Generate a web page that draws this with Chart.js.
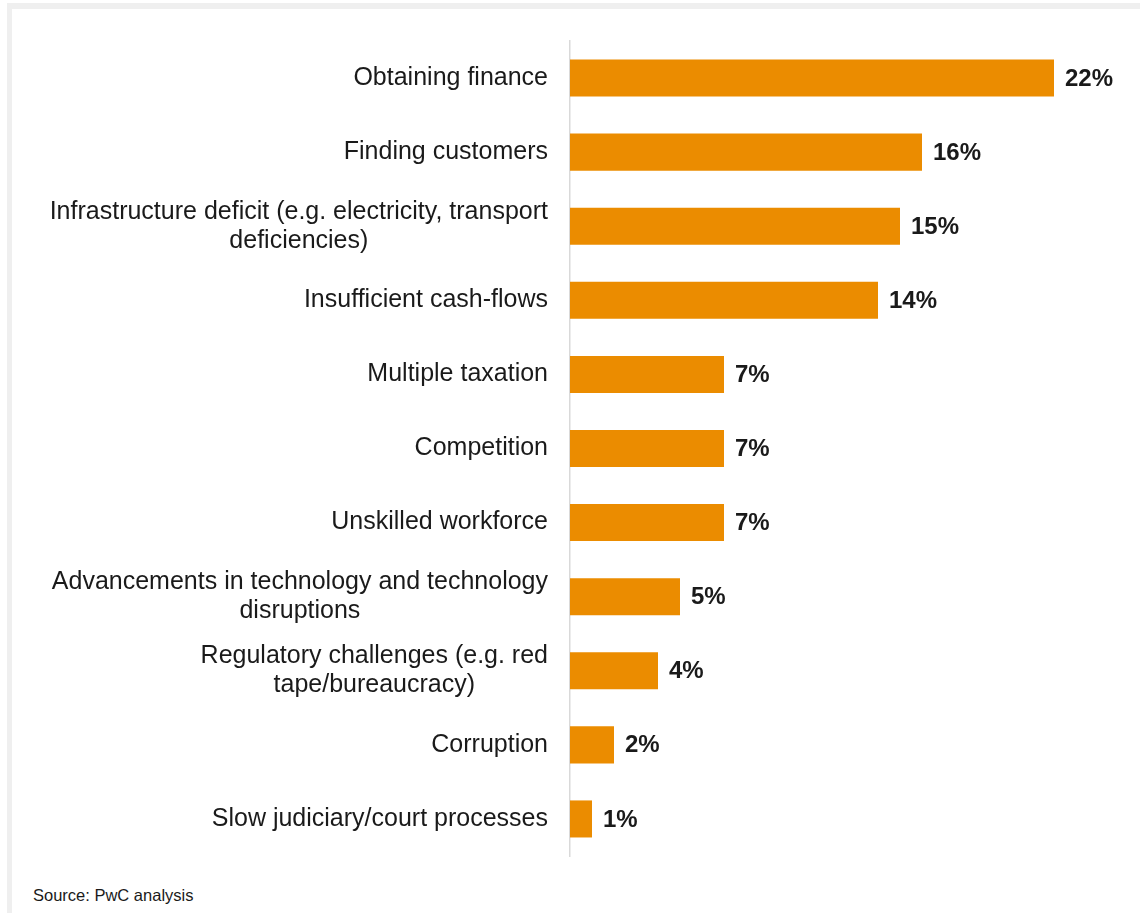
<!DOCTYPE html>
<html>
<head>
<meta charset="utf-8">
<script src="https://cdn.jsdelivr.net/npm/chart.js@4.4.0/dist/chart.umd.min.js"></script>
<style>
    html, body { margin: 0; padding: 0; background: #fff; width: 1140px; height: 913px; overflow: hidden; }
    #frame { position: absolute; left: 7px; top: 3px; right: -10px; bottom: -10px;
             border-left: 5px solid #efefef; border-top: 6px solid #efefef; }
    #myChart { position: absolute; left: 0; top: 0; }
    #source { position: absolute; left: 33px; top: 887px; line-height: 16px;
              font-family: "Liberation Sans", Arial, sans-serif; font-size: 16.5px; color: #1a1a1a; }
</style>
</head>
<body>
<div id="frame"></div>
<canvas id="myChart" width="1140" height="870"></canvas>
<div id="source">Source: PwC analysis</div>
<script>
// category names, one array entry per printed line
const categories = [
    ["Obtaining finance"],
    ["Finding customers"],
    ["Infrastructure deficit (e.g. electricity, transport", "deficiencies)"],
    ["Insufficient cash-flows"],
    ["Multiple taxation"],
    ["Competition"],
    ["Unskilled workforce"],
    ["Advancements in technology and technology", "disruptions"],
    ["Regulatory challenges (e.g. red", "tape/bureaucracy)"],
    ["Corruption"],
    ["Slow judiciary/court processes"]
];
// share of respondents, %
const values = [22, 16, 15, 14, 7, 7, 7, 5, 4, 2, 1];

const barColor = '#EB8C00';
const textColor = '#1a1a1a';
const fontFamily = '"Liberation Sans", Arial, sans-serif';
const lineGap = 29;

// labels on the left: block right-aligned against the axis, lines centred inside the block
const categoryLabels = {
    id: 'categoryLabels',
    afterDraw(chart) {
        const ctx = chart.ctx;
        const yScale = chart.scales.y;
        const right = chart.chartArea.left - 22;
        ctx.save();
        ctx.font = '25px ' + fontFamily;
        ctx.fillStyle = textColor;
        ctx.textAlign = 'center';
        ctx.textBaseline = 'middle';
        categories.forEach(function(lines, i) {
            const y = yScale.getPixelForValue(i);
            let maxW = 0;
            lines.forEach(l => { maxW = Math.max(maxW, ctx.measureText(l).width); });
            const cx = right - maxW / 2;
            const top = y - (lines.length - 1) * lineGap / 2;
            lines.forEach((l, j) => ctx.fillText(l, cx, top + j * lineGap));
        });
        ctx.restore();
    }
};

// bold percentage after each bar
const valueLabels = {
    id: 'valueLabels',
    afterDatasetsDraw(chart) {
        const ctx = chart.ctx;
        const meta = chart.getDatasetMeta(0);
        ctx.save();
        ctx.font = 'bold 24px ' + fontFamily;
        ctx.fillStyle = textColor;
        ctx.textAlign = 'left';
        ctx.textBaseline = 'middle';
        meta.data.forEach(function(bar, i) {
            ctx.fillText(values[i] + '%', bar.x + 11, bar.y + 1);
        });
        ctx.restore();
    }
};

var ctx = document.getElementById('myChart').getContext('2d');
var myChart = new Chart(ctx, {
    type: 'bar',
    data: {
        labels: categories.map(c => c.join(' ')),
        datasets: [{
            data: values,
            backgroundColor: barColor,
            borderWidth: 0,
            barPercentage: 0.5,
            categoryPercentage: 1
        }]
    },
    options: {
        indexAxis: 'y',
        responsive: false,
        animation: false,
        layout: {
            padding: { top: 41, bottom: 14, right: 20, left: 0 }
        },
        plugins: {
            legend: { display: false },
            tooltip: { enabled: false }
        },
        scales: {
            x: {
                type: 'linear',
                display: false,
                min: 0,
                max: 25
            },
            y: {
                ticks: { display: false },
                grid: { display: false },
                border: { display: true, color: '#d9d9d9', width: 1.5 },
                afterFit: function(scale) {
                    scale.width = 570;
                }
            }
        }
    },
    plugins: [categoryLabels, valueLabels]
});
</script>
</body>
</html>
